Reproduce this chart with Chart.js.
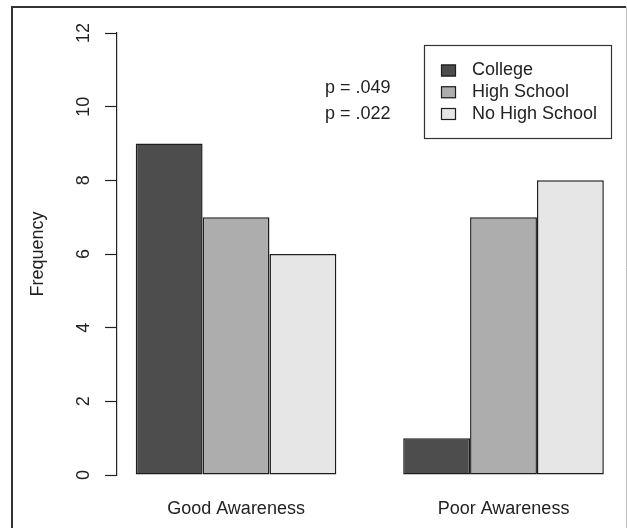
<!DOCTYPE html>
<html>
<head>
<meta charset="utf-8">
<script src="https://cdn.jsdelivr.net/npm/chart.js@4.4.1/dist/chart.umd.min.js"></script>
<style>
    html, body { margin: 0; padding: 0; background: #fff; }
    #wrap { width: 627px; height: 528px; position: relative; }
</style>
</head>
<body>
<div id="wrap"><canvas id="ChartAwareness"></canvas></div>
<script>
const groups = ['Good Awareness', 'Poor Awareness'];
const seriesNames = ['College', 'High School', 'No High School'];
const college = [9, 1];
const highSchool = [7, 7];
const noHighSchool = [6, 8];
const yTicks = [0, 2, 4, 6, 8, 10, 12];
const pValues = ['p = .049', 'p = .022'];
const pValueY = [10.5, 9.8];

const fillColors = ['#4d4d4d', '#adadad', '#e6e6e6'];
const edgeColor = '#1e1e1e';
const textColor = '#222';
const fontFamily = '"Liberation Sans", Arial, Helvetica, sans-serif';

Chart.defaults.font.family = fontFamily;
Chart.defaults.font.size = 18;
Chart.defaults.color = textColor;

function toPoints(values) {
    return values.map((v, i) => ({ x: i, y: v }));
}

// frame, p-values and the boxed legend, drawn like R does
const rDecor = {
    id: 'rDecor',
    afterDraw(chart) {
        const ctx = chart.ctx;
        const xs = chart.scales.x;
        const ys = chart.scales.y;
        ctx.save();

        ctx.strokeStyle = '#333';
        ctx.lineWidth = 2;
        ctx.beginPath();
        ctx.moveTo(12, chart.height);
        ctx.lineTo(12, 7);
        ctx.lineTo(626, 7);
        ctx.stroke();
        ctx.strokeStyle = '#bbb';
        ctx.lineWidth = 1;
        ctx.beginPath();
        ctx.moveTo(626.5, 7);
        ctx.lineTo(626.5, chart.height);
        ctx.stroke();

        ctx.fillStyle = textColor;
        ctx.font = '18px ' + fontFamily;
        ctx.textAlign = 'center';
        ctx.textBaseline = 'middle';
        pValues.forEach((t, i) => {
            ctx.fillText(t, xs.getPixelForValue(0.455), ys.getPixelForValue(pValueY[i]));
        });

        ctx.strokeStyle = '#333';
        ctx.lineWidth = 1.2;
        ctx.strokeRect(424.5, 45.5, 187, 93);
        ctx.textAlign = 'left';
        seriesNames.forEach((name, i) => {
            const yc = 70.5 + i * 21.75;
            ctx.fillStyle = fillColors[i];
            ctx.fillRect(441, yc - 6, 15, 12);
            ctx.strokeStyle = edgeColor;
            ctx.strokeRect(441.5, yc - 5.5, 14, 11);
            ctx.fillStyle = textColor;
            ctx.fillText(name, 472, yc);
        });

        ctx.restore();
    }
};

const ctx = document.getElementById('ChartAwareness').getContext('2d');
const chartAwareness = new Chart(ctx, {
    type: 'bar',
    data: {
        datasets: [college, highSchool, noHighSchool].map((vals, i) => ({
            label: seriesNames[i],
            data: toPoints(vals),
            backgroundColor: fillColors[i],
            borderColor: edgeColor,
            borderWidth: 1.5,
            borderSkipped: false,
            inflateAmount: 0,
            categoryPercentage: 0.75,
            barPercentage: 1
        }))
    },
    options: {
        responsive: true,
        maintainAspectRatio: false,
        animation: false,
        layout: {
            padding: { left: 0, top: 33, right: 5, bottom: 0 }
        },
        plugins: {
            legend: { display: false },
            tooltip: { enabled: false }
        },
        scales: {
            x: {
                type: 'linear',
                min: -0.445,
                max: 1.443,
                offset: false,
                grid: { display: false, drawTicks: false, offset: false },
                border: { display: false },
                afterBuildTicks: (scale) => {
                    scale.ticks = groups.map((g, i) => ({ value: i }));
                },
                ticks: {
                    callback: (value) => groups[value],
                    autoSkip: false,
                    maxRotation: 0,
                    padding: 23
                },
                afterFit: (scale) => { scale.height = 53; }
            },
            y: {
                min: 0,
                max: 12,
                afterBuildTicks: (scale) => {
                    scale.ticks = yTicks.map(v => ({ value: v }));
                },
                ticks: {
                    minRotation: 90,
                    maxRotation: 90,
                    crossAlign: 'center',
                    padding: 11
                },
                grid: {
                    drawOnChartArea: false,
                    tickLength: 12,
                    color: '#222',
                    tickColor: '#222',
                    tickWidth: 1.2
                },
                border: { display: true, color: '#222', width: 1.2 },
                title: {
                    display: true,
                    text: 'Frequency',
                    font: { size: 18 },
                    padding: { top: 27, bottom: 0 }
                },
                afterFit: (scale) => { scale.width = 117; }
            }
        }
    },
    plugins: [rDecor]
});
</script>
</body>
</html>
